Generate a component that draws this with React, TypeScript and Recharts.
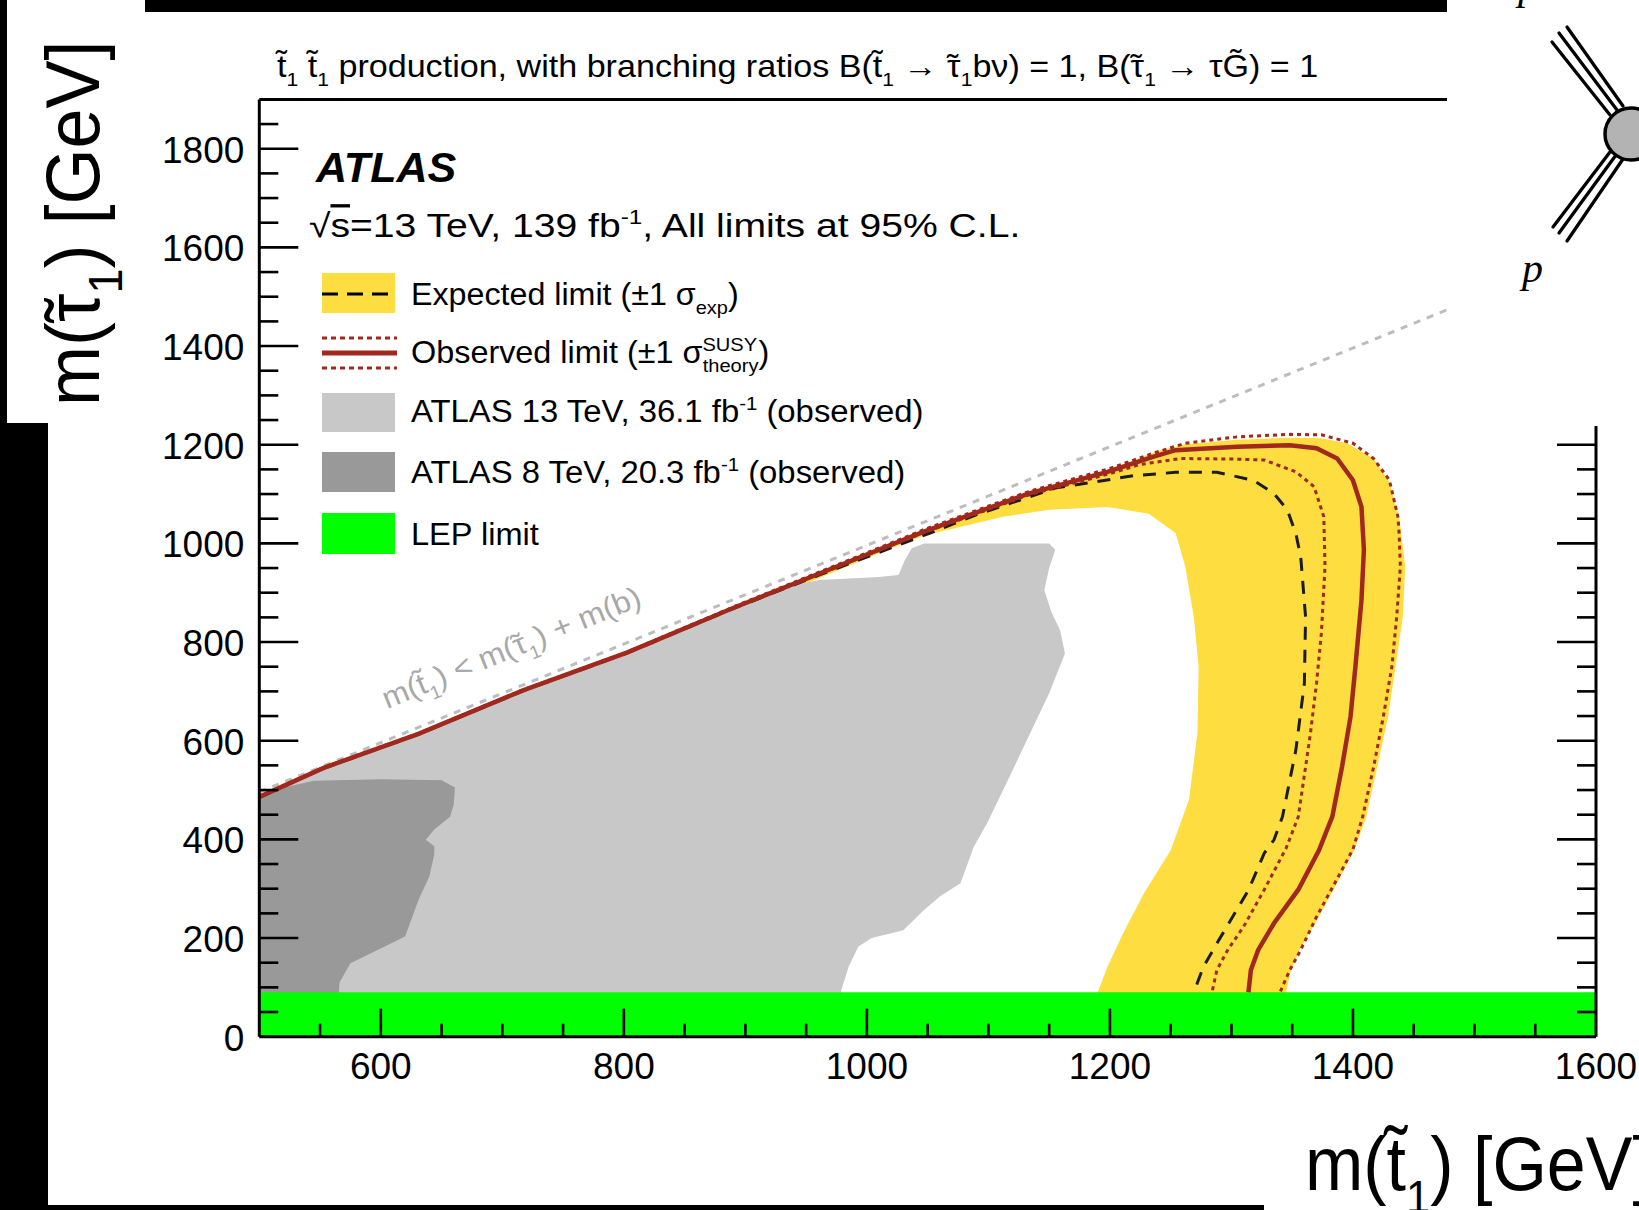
import React from 'react';
import { ComposedChart, Area, Line, XAxis, YAxis } from 'recharts';

const SANS = "'Liberation Sans', Arial, Helvetica, sans-serif";
const SERIF = "'Liberation Serif', 'Times New Roman', serif";

const xTicks = [500, 550, 600, 650, 700, 750, 800, 850, 900, 950, 1000, 1050, 1100, 1150, 1200, 1250, 1300, 1350, 1400, 1450, 1500, 1550, 1600];
const yTicks = [0, 50, 100, 150, 200, 250, 300, 350, 400, 450, 500, 550, 600, 650, 700, 750, 800, 850, 900, 950, 1000, 1050, 1100, 1150, 1200, 1250, 1300, 1350, 1400, 1450, 1500, 1550, 1600, 1650, 1700, 1750, 1800, 1850, 1900];

// LEP limit band
const lepBand = [
  { x: 500, y: 0 }, { x: 1600, y: 0 }, { x: 1600, y: 90 }, { x: 500, y: 90 }, { x: 500, y: 0 },
];

// ATLAS 13 TeV, 36.1 fb-1 observed region
const atlas13 = [
  { x: 500, y: 0 }, { x: 500, y: 483 }, { x: 553, y: 541 }, { x: 631, y: 610 }, { x: 717, y: 698 },
  { x: 803, y: 775 }, { x: 889, y: 864 }, { x: 940, y: 915 }, { x: 961, y: 926 }, { x: 1010, y: 932 },
  { x: 1026, y: 936 }, { x: 1031, y: 965 }, { x: 1037, y: 990 }, { x: 1047, y: 1000 }, { x: 1150, y: 1000 },
  { x: 1155, y: 987 }, { x: 1150, y: 950 }, { x: 1146, y: 905 }, { x: 1152, y: 860 }, { x: 1159, y: 824 },
  { x: 1163, y: 777 }, { x: 1157, y: 740 }, { x: 1150, y: 696 }, { x: 1133, y: 608 }, { x: 1116, y: 520 },
  { x: 1099, y: 433 }, { x: 1088, y: 385 }, { x: 1084, y: 358 }, { x: 1077, y: 311 }, { x: 1060, y: 284 },
  { x: 1047, y: 257 }, { x: 1030, y: 216 }, { x: 1004, y: 200 }, { x: 993, y: 183 }, { x: 985, y: 142 },
  { x: 979, y: 95 }, { x: 977, y: 0 }, { x: 500, y: 0 },
];

// ATLAS 8 TeV, 20.3 fb-1 observed region
const atlas8 = [
  { x: 500, y: 0 }, { x: 500, y: 488 }, { x: 520, y: 505 }, { x: 545, y: 519 }, { x: 600, y: 522 },
  { x: 650, y: 520 }, { x: 661, y: 505 }, { x: 660, y: 470 }, { x: 657, y: 446 }, { x: 644, y: 420 },
  { x: 637, y: 399 }, { x: 644, y: 386 }, { x: 644, y: 370 }, { x: 640, y: 325 }, { x: 631, y: 277 },
  { x: 620, y: 203 }, { x: 575, y: 149 }, { x: 566, y: 110 }, { x: 563, y: 0 }, { x: 500, y: 0 },
];

// Expected limit +-1 sigma band (closed outline)
const expBand = [
  { x: 900, y: 874 }, { x: 961, y: 943 }, { x: 1047, y: 1027 }, { x: 1133, y: 1105 }, { x: 1198, y: 1149 },
  { x: 1240, y: 1188 }, { x: 1262, y: 1201 }, { x: 1305, y: 1210 }, { x: 1348, y: 1214 }, { x: 1374, y: 1213 },
  { x: 1395, y: 1203 }, { x: 1417, y: 1172 }, { x: 1430, y: 1124 }, { x: 1438, y: 1054 }, { x: 1443, y: 953 },
  { x: 1441, y: 851 }, { x: 1435, y: 750 }, { x: 1429, y: 649 }, { x: 1420, y: 547 }, { x: 1411, y: 446 },
  { x: 1401, y: 378 }, { x: 1384, y: 298 }, { x: 1369, y: 230 }, { x: 1356, y: 176 }, { x: 1349, y: 135 },
  { x: 1345, y: 90 }, { x: 1345, y: 0 }, { x: 1190, y: 0 }, { x: 1190, y: 90 }, { x: 1198, y: 142 },
  { x: 1211, y: 210 }, { x: 1228, y: 291 }, { x: 1250, y: 378 }, { x: 1265, y: 480 }, { x: 1272, y: 615 },
  { x: 1273, y: 750 }, { x: 1269, y: 851 }, { x: 1262, y: 953 }, { x: 1254, y: 1021 }, { x: 1232, y: 1060 },
  { x: 1198, y: 1074 }, { x: 1150, y: 1068 }, { x: 1112, y: 1054 }, { x: 1047, y: 1016 }, { x: 1005, y: 975 },
  { x: 961, y: 930 }, { x: 900, y: 868 }, { x: 900, y: 874 },
];

// kinematic limit m(t1) = m(tau1) + m(b)
const kinLine = [{ x: 500, y: 496 }, { x: 1600, y: 1596 }];

const expected = [
  { x: 500, y: 485 }, { x: 553, y: 544 }, { x: 631, y: 613 }, { x: 717, y: 701 }, { x: 803, y: 778 },
  { x: 889, y: 867 }, { x: 961, y: 936 }, { x: 1052, y: 1021 }, { x: 1090, y: 1058 }, { x: 1155, y: 1112 },
  { x: 1219, y: 1137 }, { x: 1254, y: 1144 }, { x: 1288, y: 1144 }, { x: 1318, y: 1128 }, { x: 1335, y: 1101 },
  { x: 1346, y: 1068 }, { x: 1353, y: 1020 }, { x: 1357, y: 973 }, { x: 1361, y: 851 }, { x: 1360, y: 716 },
  { x: 1353, y: 581 }, { x: 1342, y: 446 }, { x: 1335, y: 399 }, { x: 1327, y: 372 }, { x: 1314, y: 297 },
  { x: 1301, y: 243 }, { x: 1288, y: 189 }, { x: 1277, y: 142 }, { x: 1269, y: 90 },
];

const observed = [
  { x: 500, y: 486 }, { x: 553, y: 545 }, { x: 631, y: 614 }, { x: 717, y: 702 }, { x: 803, y: 779 },
  { x: 889, y: 868 }, { x: 961, y: 939 }, { x: 1047, y: 1024 }, { x: 1133, y: 1101 }, { x: 1198, y: 1145 },
  { x: 1236, y: 1176 }, { x: 1254, y: 1189 }, { x: 1305, y: 1196 }, { x: 1348, y: 1199 }, { x: 1370, y: 1193 },
  { x: 1387, y: 1172 }, { x: 1400, y: 1128 }, { x: 1407, y: 1074 }, { x: 1409, y: 987 }, { x: 1407, y: 885 },
  { x: 1402, y: 750 }, { x: 1398, y: 649 }, { x: 1391, y: 547 }, { x: 1383, y: 446 }, { x: 1372, y: 378 },
  { x: 1355, y: 298 }, { x: 1335, y: 230 }, { x: 1322, y: 176 }, { x: 1316, y: 135 }, { x: 1314, y: 90 },
];

const observedUp = [
  { x: 500, y: 487 }, { x: 553, y: 546 }, { x: 631, y: 615 }, { x: 717, y: 703 }, { x: 803, y: 780 },
  { x: 889, y: 870 }, { x: 961, y: 942 }, { x: 1047, y: 1028 }, { x: 1133, y: 1105 }, { x: 1200, y: 1152 },
  { x: 1236, y: 1183 }, { x: 1262, y: 1203 }, { x: 1305, y: 1216 }, { x: 1348, y: 1221 }, { x: 1374, y: 1220 },
  { x: 1400, y: 1203 }, { x: 1417, y: 1172 }, { x: 1430, y: 1128 }, { x: 1437, y: 1054 }, { x: 1438, y: 1020 },
  { x: 1439, y: 953 }, { x: 1436, y: 851 }, { x: 1432, y: 750 }, { x: 1425, y: 649 }, { x: 1417, y: 547 },
  { x: 1408, y: 446 }, { x: 1400, y: 380 }, { x: 1385, y: 311 }, { x: 1370, y: 243 }, { x: 1357, y: 176 },
  { x: 1348, y: 135 }, { x: 1340, y: 90 },
];

const observedDown = [
  { x: 500, y: 486 }, { x: 553, y: 545 }, { x: 631, y: 614 }, { x: 717, y: 702 }, { x: 803, y: 779 },
  { x: 889, y: 868 }, { x: 961, y: 938 }, { x: 1047, y: 1022 }, { x: 1133, y: 1098 }, { x: 1198, y: 1140 },
  { x: 1225, y: 1160 }, { x: 1258, y: 1172 }, { x: 1300, y: 1171 }, { x: 1327, y: 1169 }, { x: 1353, y: 1145 },
  { x: 1368, y: 1115 }, { x: 1376, y: 1054 }, { x: 1377, y: 953 }, { x: 1374, y: 818 }, { x: 1370, y: 716 },
  { x: 1365, y: 615 }, { x: 1361, y: 547 }, { x: 1355, y: 446 }, { x: 1345, y: 382 }, { x: 1327, y: 298 },
  { x: 1310, y: 223 }, { x: 1297, y: 176 }, { x: 1288, y: 135 }, { x: 1284, y: 90 },
];

const YELLOW = '#fddd40';
const LGRAY = '#c8c8c8';
const DGRAY = '#999999';
const GREEN = '#00ff00';
const RED = '#a1281c';

const axisLineStyle = { stroke: '#000', strokeWidth: 3 };

const BottomTick = (p: any) => {
  const v = p.payload.value;
  const major = v % 200 === 0;
  return (
    <g>
      {v !== 500 && v !== 1600 ? (
        <line x1={p.x} x2={p.x} y1={p.y} y2={p.y - (major ? 28 : 13)} stroke="#000" strokeWidth={2.6} />
      ) : null}
      {major ? (
        <text x={p.x} y={p.y + 42} textAnchor="middle" fontSize={37} fontFamily={SANS} fill="#000">{v}</text>
      ) : null}
    </g>
  );
};

const TopTick = (p: any) => {
  const v = p.payload.value;
  const major = v % 200 === 0;
  if (v === 500 || v === 1600) return <g />;
  return <line x1={p.x} x2={p.x} y1={p.y} y2={p.y + (major ? 28 : 13)} stroke="#000" strokeWidth={2.6} />;
};

const LeftTick = (p: any) => {
  const v = p.payload.value;
  const major = v % 200 === 0;
  return (
    <g>
      {v !== 0 && v !== 1900 ? (
        <line x1={p.x} x2={p.x + (major ? 39 : 19)} y1={p.y} y2={p.y} stroke="#000" strokeWidth={2.6} />
      ) : null}
      {major ? (
        <text x={p.x - 15} y={p.y + 14} textAnchor="end" fontSize={37} fontFamily={SANS} fill="#000">{v}</text>
      ) : null}
    </g>
  );
};

const RightTick = (p: any) => {
  const v = p.payload.value;
  const major = v % 200 === 0;
  if (v === 0 || v === 1900) return <g />;
  return <line x1={p.x} x2={p.x - (major ? 39 : 19)} y1={p.y} y2={p.y} stroke="#000" strokeWidth={2.6} />;
};

type Seg = { t: string; k?: 'sub' | 'sup'; dxEm?: number; ol?: boolean };

function rich(segs: Seg[], fs: number) {
  let cur = 0;
  return segs.map((s, i) => {
    const target = s.k === 'sub' ? fs * 0.3 : s.k === 'sup' ? -fs * 0.4 : 0;
    const dy = target - cur;
    cur = target;
    return (
      <tspan key={i} dy={dy} dx={s.dxEm !== undefined ? s.dxEm * fs : undefined} fontSize={s.k ? fs * 0.62 : fs}
        style={s.ol ? { textDecoration: 'overline' } : undefined}>
        {s.t}
      </tspan>
    );
  });
}

const RichText = (props: { x: number; y: number; fs: number; segs: Seg[]; sx?: number; sy?: number; rot?: number; fill?: string; weight?: string; italic?: boolean; family?: string }) => {
  const { x, y, fs, segs, sx = 1, sy = 1, rot = 0, fill = '#000', weight = 'normal', italic = false, family = SANS } = props;
  return (
    <g transform={`translate(${x},${y}) rotate(${rot}) scale(${sx},${sy})`}>
      <text x={0} y={0} fontSize={fs} fontFamily={family} fill={fill} fontWeight={weight} fontStyle={italic ? 'italic' : 'normal'}>
        {rich(segs, fs)}
      </text>
    </g>
  );
};

// tau with a tilde drawn above it
const TILDE: Seg = { t: '\u02DC', dxEm: -0.40 };

const titleSegs: Seg[] = [
  { t: 't\u0303' }, { t: '1', k: 'sub' }, { t: ' t\u0303' }, { t: '1', k: 'sub' },
  { t: ' production, with branching ratios B(t\u0303' }, { t: '1', k: 'sub' },
  { t: ' \u2192 \u03C4' }, TILDE, { t: '1', k: 'sub', dxEm: 0.07 }, { t: 'b\u03BD) = 1, B(\u03C4' }, TILDE, { t: '1', k: 'sub', dxEm: 0.07 },
  { t: ' \u2192 \u03C4G\u0303) = 1' },
];

export default function App() {
  return (
    <div style={{ position: 'absolute', left: 0, top: 0, width: 1639, height: 1210, background: '#fff', overflow: 'hidden' }}>
      <div style={{ position: 'absolute', left: 0, top: 0 }}>
        <ComposedChart width={1639} height={1210} margin={{ top: 89.4, right: 33, bottom: 123.3, left: 159.3 }}>
          <Area data={expBand} dataKey="y" type="linear" baseValue={0} fill={YELLOW} fillOpacity={1} stroke="none" isAnimationActive={false} dot={false} activeDot={false} />
          <Area data={atlas13} dataKey="y" type="linear" baseValue={0} fill={LGRAY} fillOpacity={1} stroke="none" isAnimationActive={false} dot={false} activeDot={false} />
          <Area data={atlas8} dataKey="y" type="linear" baseValue={0} fill={DGRAY} fillOpacity={1} stroke="none" isAnimationActive={false} dot={false} activeDot={false} />
          <Area data={lepBand} dataKey="y" type="linear" baseValue={0} fill={GREEN} fillOpacity={1} stroke="none" isAnimationActive={false} dot={false} activeDot={false} />
          <Line data={kinLine} dataKey="y" type="linear" stroke="#bdbdbd" strokeWidth={3} strokeDasharray="7 7" dot={false} activeDot={false} isAnimationActive={false} />
          <Line data={expected} dataKey="y" type="linear" stroke="#1c1c1c" strokeWidth={3} strokeDasharray="13 10" dot={false} activeDot={false} isAnimationActive={false} />
          <Line data={observedDown} dataKey="y" type="linear" stroke={RED} strokeWidth={3} strokeDasharray="4 4" dot={false} activeDot={false} isAnimationActive={false} />
          <Line data={observedUp} dataKey="y" type="linear" stroke={RED} strokeWidth={3} strokeDasharray="4 4" dot={false} activeDot={false} isAnimationActive={false} />
          <Line data={observed} dataKey="y" type="linear" stroke={RED} strokeWidth={4.5} dot={false} activeDot={false} isAnimationActive={false} />
          <XAxis xAxisId={0} dataKey="x" type="number" domain={[500, 1600]} allowDataOverflow ticks={xTicks} interval={0}
            tickSize={0} tickMargin={0} tickLine={false} height={50} axisLine={axisLineStyle} tick={BottomTick} />
          <XAxis xAxisId="top" orientation="top" type="number" domain={[500, 1600]} allowDataOverflow ticks={xTicks} interval={0}
            tickSize={0} tickMargin={0} tickLine={false} height={10} axisLine={axisLineStyle} tick={TopTick} />
          <YAxis yAxisId={0} type="number" domain={[0, 1900]} allowDataOverflow ticks={yTicks} interval={0}
            tickSize={0} tickMargin={0} tickLine={false} width={100} axisLine={axisLineStyle} tick={LeftTick} />
          <YAxis yAxisId="right" orientation="right" type="number" domain={[0, 1900]} allowDataOverflow ticks={yTicks} interval={0}
            tickSize={0} tickMargin={0} tickLine={false} width={10} axisLine={axisLineStyle} tick={RightTick} />
        </ComposedChart>
      </div>
      <svg style={{ position: 'absolute', left: 0, top: 0 }} width={1639} height={1210}>
        {/* collage frame pieces */}
        <rect x={0} y={0} width={7} height={423} fill="#000" />
        <rect x={0} y={423} width={48} height={787} fill="#000" />
        <rect x={145} y={0} width={1302} height={12} fill="#000" />
        <rect x={0} y={1205} width={1264} height={5} fill="#000" />

        {/* feynman diagram panel */}
        <rect x={1447} y={0} width={192} height={426} fill="#fff" />
        <g stroke="#000" strokeWidth={3.3} strokeLinecap="round">
          <line x1={1552} y1={42} x2={1610} y2={115} />
          <line x1={1559} y1={33} x2={1617} y2={110} />
          <line x1={1567} y1={27} x2={1623} y2={106} />
          <line x1={1553} y1={227} x2={1610} y2={152} />
          <line x1={1559} y1={233} x2={1616} y2={155} />
          <line x1={1567} y1={241} x2={1623} y2={159} />
        </g>
        <circle cx={1631} cy={134} r={26} fill="#b3b3b3" stroke="#000" strokeWidth={3.5} />
        <text x={1518} y={-1} fontSize={42} fontFamily={SERIF} fontStyle="italic" fill="#000">p</text>
        <text x={1522} y={282} fontSize={42} fontFamily={SERIF} fontStyle="italic" fill="#000">p</text>

        {/* axis titles */}
        <RichText x={99} y={406} rot={-90} fs={72} sy={1.06} segs={[{ t: 'm(\u03C4' }, TILDE, { t: '1', k: 'sub', dxEm: 0.07 }, { t: ') [GeV]' }]} />
        <RichText x={1305} y={1190} fs={70} sy={1.08} segs={[{ t: 'm(t\u0303' }, { t: '1', k: 'sub' }, { t: ') [GeV]' }]} />

        {/* title */}
        <RichText x={277} y={77} fs={31} sx={1.1} segs={titleSegs} />

        {/* ATLAS label */}
        <RichText x={316} y={182} fs={43} weight="bold" italic segs={[{ t: 'ATLAS' }]} />
        <RichText x={309} y={237} fs={33} sx={1.185} segs={[{ t: '\u221A' }, { t: 's', ol: true }, { t: '=13 TeV, 139 fb' }, { t: '-1', k: 'sup' }, { t: ', All limits at 95% C.L.' }]} />

        {/* legend */}
        <rect x={322} y={273} width={73} height={40} fill={YELLOW} />
        <line x1={322} x2={395} y1={294} y2={294} stroke="#000" strokeWidth={3} strokeDasharray="16 9" />
        <RichText x={411} y={305} fs={31} sx={1.04} segs={[{ t: 'Expected limit (\u00B11 \u03C3' }, { t: 'exp', k: 'sub' }, { t: ')' }]} />

        <line x1={322} x2={397} y1={338} y2={338} stroke={RED} strokeWidth={3} strokeDasharray="5 4" />
        <line x1={322} x2={397} y1={353} y2={353} stroke={RED} strokeWidth={5} />
        <line x1={322} x2={397} y1={368} y2={368} stroke={RED} strokeWidth={3} strokeDasharray="5 4" />
        <RichText x={411} y={363} fs={31} sx={1.045} segs={[{ t: 'Observed limit (\u00B11 \u03C3' }, { t: 'SUSY', k: 'sup' }, { t: 'theory', k: 'sub', dxEm: -1.68 }, { t: ')' }]} />

        <rect x={322} y={393} width={73} height={39} fill={LGRAY} />
        <RichText x={411} y={422} fs={31} sx={1.06} segs={[{ t: 'ATLAS 13 TeV, 36.1 fb' }, { t: '-1', k: 'sup' }, { t: ' (observed)' }]} />

        <rect x={322} y={452} width={73} height={40} fill={DGRAY} />
        <RichText x={411} y={483} fs={31} sx={1.06} segs={[{ t: 'ATLAS 8 TeV, 20.3 fb' }, { t: '-1', k: 'sup' }, { t: ' (observed)' }]} />

        <rect x={322} y={513} width={73} height={41} fill={GREEN} />
        <RichText x={411} y={545} fs={31} sx={1.05} segs={[{ t: 'LEP limit' }]} />

        {/* kinematic annotation */}
        <RichText x={387} y={709} rot={-22.1} fs={30} sx={1.06} fill="#a8a8a8" segs={[{ t: 'm(t\u0303' }, { t: '1', k: 'sub' }, { t: ') < m(\u03C4' }, TILDE, { t: '1', k: 'sub', dxEm: 0.07 }, { t: ') + m(b)' }]} />
      </svg>
    </div>
  );
}
